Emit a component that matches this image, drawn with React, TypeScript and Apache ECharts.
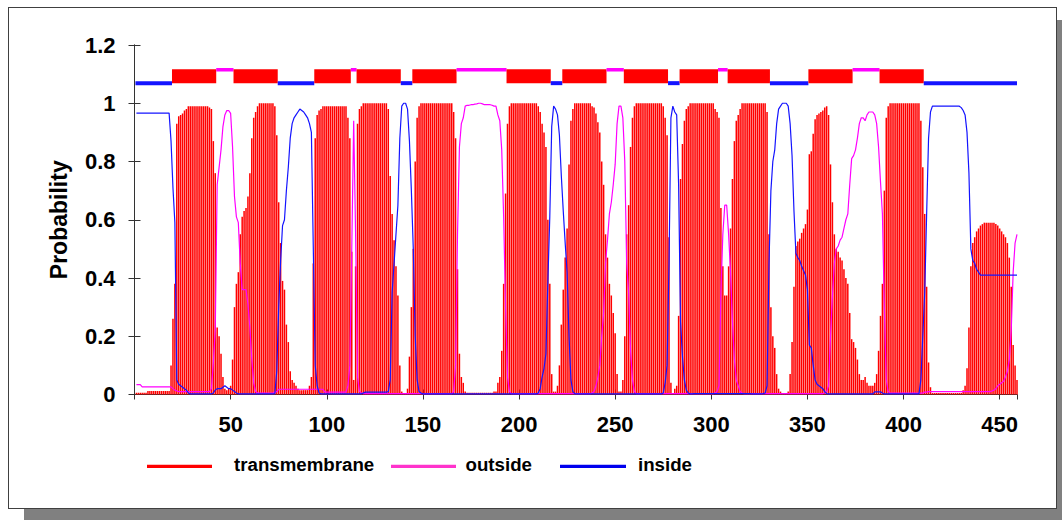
import React, { useEffect, useRef } from "react";
import * as echarts from "echarts";

// Posterior probabilities per residue (residue 1 .. 459)
const tmProb = [
  0.006,0.006,0.006,0.006,0.006,0.006,0.012,0.012,0.012,0.012,
  0.012,0.012,0.012,0.012,0.012,0.012,0.012,0.012,0.1,0.26,
  0.38,0.93,0.955,0.96,0.965,0.975,0.98,0.99,0.99,0.99,
  0.99,0.99,0.99,0.99,0.99,0.99,0.99,0.99,0.985,0.98,
  0.87,0.76,0.23,0.2,0.14,0.06,0.02,0.015,0.02,0.03,
  0.12,0.3,0.38,0.42,0.55,0.61,0.63,0.64,0.68,0.76,
  0.88,0.95,0.97,0.99,1,1,1,1,1,1,
  1,1,0.99,0.89,0.66,0.52,0.39,0.36,0.24,0.18,
  0.08,0.05,0.04,0.03,0.02,0.015,0.015,0.015,0.015,0.015,
  0.03,0.06,0.45,0.88,0.96,0.975,0.98,0.99,0.99,0.99,
  0.99,0.99,0.99,0.99,0.99,0.99,0.99,0.99,0.99,0.99,
  0.95,0.88,0.49,0.05,0.44,0.93,0.98,0.99,1,1,
  1,1,1,1,1,1,1,1,1,1,
  1,0.98,0.75,0.62,0.53,0.44,0.34,0.1,0.01,0.003,
  0.003,0.02,0.13,0.3,0.5,0.8,0.95,0.99,1,1,
  1,1,1,1,1,1,1,1,1,1,
  1,1,1,1,1,0.97,0.88,0.43,0.14,0.06,
  0.04,0.01,0.006,0.006,0.006,0.006,0.006,0.006,0.006,0.006,
  0.006,0.006,0.006,0.006,0.006,0.006,0.01,0.01,0.04,0.06,
  0.15,0.38,0.69,0.93,0.99,1,1,1,1,1,
  1,1,1,1,1,1,1,1,1,0.99,
  0.97,0.93,0.9,0.85,0.6,0.38,0.07,0.01,0.01,0.03,
  0.1,0.24,0.36,0.47,0.57,0.79,0.94,0.98,1,1,
  1,1,1,1,1,1,1,0.99,0.985,0.965,
  0.935,0.9,0.8,0.72,0.55,0.47,0.38,0.34,0.28,0.21,
  0.07,0.01,0.01,0.05,0.2,0.55,0.65,0.85,0.95,0.99,
  1,1,1,1,1,1,1,1,1,1,
  1,1,1,1,0.99,0.95,0.89,0.54,0.04,0.005,
  0.02,0.03,0.27,0.74,0.86,0.94,0.98,0.99,1,1,
  1,1,1,1,1,1,1,1,1,1,
  1,0.98,0.97,0.95,0.64,0.44,0.34,0.34,0.44,0.57,
  0.74,0.87,0.94,0.96,0.98,1,1,1,1,1,
  1,1,1,1,1,1,1,1,0.97,0.55,
  0.3,0.2,0.16,0.07,0.02,0.01,0.003,0.003,0.003,0.01,
  0.07,0.18,0.37,0.51,0.525,0.535,0.555,0.57,0.585,0.635,
  0.825,0.835,0.895,0.945,0.96,0.965,0.97,0.975,0.985,0.99,
  0.96,0.79,0.66,0.55,0.5,0.49,0.47,0.46,0.43,0.4,
  0.38,0.28,0.19,0.18,0.16,0.12,0.07,0.05,0.05,0.06,
  0.04,0.03,0.03,0.03,0.04,0.07,0.15,0.27,0.38,0.7,
  0.95,0.99,1,1,1,1,1,1,1,1,
  1,1,1,1,1,1,1,1,0.94,0.78,
  0.62,0.37,0.11,0.025,0.005,0.005,0.005,0.005,0.005,0.005,
  0.005,0.005,0.005,0.005,0.005,0.005,0.005,0.005,0.005,0.005,
  0.015,0.03,0.09,0.23,0.44,0.52,0.54,0.56,0.57,0.58,
  0.585,0.59,0.59,0.59,0.59,0.59,0.59,0.585,0.58,0.57,
  0.56,0.55,0.54,0.52,0.47,0.37,0.17,0.1,0.05,
];

const outsideProb = [
  0.034,0.034,0.034,0.026,0.026,0.026,0.026,0.026,0.026,0.026,
  0.026,0.026,0.026,0.026,0.026,0.026,0.026,0.026,0.026,0.02,
  0.015,0.012,0.01,0.01,0.01,0.01,0.01,0.01,0.01,0.01,
  0.01,0.01,0.01,0.01,0.01,0.01,0.01,0.01,0.01,0.02,
  0.11,0.22,0.72,0.78,0.84,0.92,0.96,0.975,0.975,0.965,
  0.85,0.68,0.61,0.59,0.45,0.36,0.36,0.36,0.31,0.23,
  0.12,0.04,0.01,0.005,0.005,0.005,0.005,0.005,0.005,0.005,
  0.005,0.005,0.008,0.01,0.018,0.018,0.018,0.018,0.018,0.018,
  0.018,0.018,0.018,0.018,0.018,0.018,0.018,0.018,0.018,0.018,
  0.018,0.018,0.018,0.018,0.018,0.018,0.018,0.018,0.008,0.008,
  0.008,0.008,0.008,0.008,0.008,0.008,0.008,0.008,0.008,0.008,
  0.03,0.1,0.5,0.94,0.55,0.06,0.01,0.005,0.003,0.003,
  0.003,0.003,0.003,0.003,0.003,0.003,0.003,0.003,0.003,0.003,
  0.003,0.003,0.003,0.003,0.003,0.003,0.003,0.003,0.003,0.003,
  0.003,0.003,0.003,0.003,0.003,0.003,0.003,0.003,0.003,0.003,
  0.003,0.003,0.003,0.003,0.003,0.003,0.003,0.003,0.003,0.003,
  0.003,0.003,0.003,0.003,0.003,0.01,0.1,0.55,0.85,0.93,
  0.95,0.99,0.993,0.993,0.995,0.995,0.997,0.998,1,1,
  0.998,0.995,0.995,0.995,0.995,0.993,0.99,0.99,0.96,0.94,
  0.84,0.61,0.3,0.06,0.01,0.003,0.003,0.003,0.003,0.003,
  0.003,0.003,0.003,0.003,0.003,0.003,0.003,0.003,0.003,0.003,
  0.003,0.003,0.003,0.003,0.003,0.003,0.003,0.003,0.003,0.003,
  0.003,0.003,0.003,0.003,0.003,0.003,0.003,0.003,0.003,0.003,
  0.003,0.003,0.003,0.003,0.003,0.003,0.003,0.005,0.01,0.03,
  0.06,0.1,0.2,0.28,0.45,0.53,0.62,0.66,0.72,0.79,
  0.93,0.99,0.99,0.95,0.8,0.45,0.35,0.15,0.05,0.01,
  0.003,0.003,0.003,0.003,0.003,0.003,0.003,0.003,0.003,0.003,
  0.003,0.003,0.003,0.003,0.003,0.003,0.003,0.003,0.003,0.003,
  0.003,0.003,0.003,0.003,0.003,0.003,0.003,0.003,0.003,0.003,
  0.003,0.003,0.003,0.003,0.003,0.003,0.003,0.003,0.003,0.003,
  0.003,0.005,0.01,0.03,0.35,0.55,0.65,0.65,0.55,0.42,
  0.25,0.12,0.05,0.03,0.01,0.005,0.003,0.003,0.003,0.003,
  0.003,0.003,0.003,0.003,0.003,0.003,0.003,0.003,0.003,0.003,
  0.003,0.003,0.003,0.003,0.003,0.003,0.003,0.003,0.003,0.003,
  0.003,0.003,0.003,0.003,0.003,0.003,0.003,0.003,0.003,0.003,
  0.003,0.003,0.003,0.003,0.003,0.003,0.003,0.003,0.005,0.01,
  0.03,0.2,0.34,0.45,0.5,0.51,0.53,0.54,0.57,0.6,
  0.62,0.72,0.81,0.82,0.84,0.88,0.93,0.95,0.95,0.94,
  0.96,0.97,0.97,0.97,0.96,0.93,0.85,0.73,0.62,0.3,
  0.05,0.01,0.005,0.005,0.005,0.005,0.005,0.005,0.005,0.005,
  0.005,0.005,0.005,0.005,0.005,0.005,0.005,0.005,0.005,0.005,
  0.008,0.008,0.01,0.01,0.01,0.01,0.01,0.01,0.01,0.01,
  0.01,0.01,0.01,0.01,0.01,0.01,0.01,0.01,0.01,0.01,
  0.01,0.01,0.01,0.01,0.01,0.01,0.01,0.01,0.01,0.01,
  0.01,0.01,0.01,0.01,0.01,0.012,0.015,0.02,0.03,0.035,
  0.04,0.045,0.06,0.08,0.12,0.22,0.42,0.52,0.55,
];

const insideProb = [
  0.966,0.966,0.966,0.966,0.966,0.966,0.966,0.966,0.966,0.966,
  0.966,0.966,0.966,0.966,0.966,0.966,0.966,0.966,0.87,0.71,
  0.59,0.05,0.035,0.03,0.025,0.02,0.015,0.005,0.002,0.002,
  0.002,0.002,0.002,0.002,0.002,0.002,0.002,0.002,0.002,0.002,
  0.005,0.015,0.02,0.02,0.02,0.025,0.03,0.025,0.02,0.02,
  0.015,0.01,0.005,0.002,0.002,0.002,0.002,0.002,0.002,0.002,
  0.002,0.002,0.002,0.002,0.002,0.002,0.002,0.002,0.002,0.002,
  0.002,0.002,0.003,0.08,0.3,0.46,0.58,0.6,0.7,0.78,
  0.88,0.93,0.95,0.96,0.97,0.98,0.975,0.97,0.96,0.95,
  0.93,0.9,0.5,0.1,0.03,0.005,0.002,0.002,0.002,0.002,
  0.002,0.002,0.002,0.002,0.002,0.002,0.002,0.002,0.002,0.002,
  0.002,0.002,0.002,0.002,0.002,0.002,0.002,0.002,0.005,0.008,
  0.008,0.008,0.008,0.008,0.008,0.008,0.008,0.008,0.008,0.008,
  0.008,0.01,0.05,0.35,0.45,0.55,0.65,0.88,0.99,1,
  1,0.98,0.87,0.7,0.5,0.2,0.05,0.01,0.005,0.002,
  0.002,0.002,0.002,0.002,0.002,0.002,0.002,0.002,0.002,0.002,
  0.002,0.002,0.002,0.002,0.002,0.002,0.002,0.002,0.002,0.002,
  0.002,0.002,0.002,0.002,0.002,0.002,0.002,0.002,0.002,0.002,
  0.002,0.002,0.002,0.002,0.002,0.002,0.002,0.002,0.002,0.002,
  0.002,0.002,0.002,0.002,0.002,0.002,0.002,0.002,0.002,0.002,
  0.002,0.002,0.002,0.002,0.002,0.002,0.002,0.002,0.002,0.005,
  0.02,0.06,0.09,0.14,0.39,0.61,0.92,0.99,0.98,0.96,
  0.89,0.75,0.63,0.52,0.42,0.2,0.05,0.01,0.003,0.002,
  0.002,0.002,0.002,0.002,0.002,0.002,0.002,0.002,0.002,0.002,
  0.002,0.002,0.002,0.002,0.002,0.002,0.002,0.002,0.002,0.002,
  0.002,0.002,0.002,0.002,0.002,0.002,0.002,0.002,0.002,0.002,
  0.002,0.002,0.002,0.002,0.002,0.002,0.002,0.002,0.002,0.002,
  0.002,0.002,0.002,0.002,0.005,0.04,0.1,0.45,0.95,0.99,
  0.97,0.96,0.72,0.25,0.13,0.05,0.015,0.005,0.002,0.002,
  0.003,0.003,0.003,0.003,0.003,0.003,0.003,0.003,0.003,0.003,
  0.003,0.003,0.003,0.003,0.003,0.003,0.003,0.003,0.003,0.003,
  0.003,0.003,0.003,0.003,0.003,0.003,0.003,0.003,0.003,0.003,
  0.002,0.002,0.002,0.002,0.002,0.002,0.003,0.005,0.03,0.45,
  0.7,0.8,0.84,0.93,0.98,0.99,1,1,1,0.99,
  0.93,0.82,0.63,0.485,0.47,0.46,0.44,0.425,0.41,0.36,
  0.17,0.16,0.1,0.05,0.035,0.03,0.025,0.02,0.01,0.003,
  0.002,0.002,0.002,0.002,0.002,0.002,0.002,0.002,0.002,0.002,
  0.002,0.002,0.002,0.002,0.002,0.002,0.002,0.002,0.002,0.002,
  0.002,0.002,0.002,0.002,0.009,0.009,0.009,0.009,0.005,0.002,
  0.002,0.002,0.002,0.002,0.002,0.002,0.002,0.002,0.002,0.002,
  0.002,0.002,0.002,0.002,0.002,0.002,0.002,0.002,0.05,0.2,
  0.35,0.62,0.88,0.97,0.99,0.99,0.99,0.99,0.99,0.99,
  0.99,0.99,0.99,0.99,0.99,0.99,0.99,0.99,0.99,0.985,
  0.975,0.96,0.9,0.76,0.5,0.46,0.45,0.43,0.42,0.41,
  0.41,0.41,0.41,0.41,0.41,0.41,0.41,0.41,0.41,0.41,
  0.41,0.41,0.41,0.41,0.41,0.41,0.41,0.41,0.41,
];

// Predicted topology (segments of residues)
const topoStart = [1, 20, 43, 52, 75, 94, 113, 116, 139, 145, 168, 194, 217, 223, 246, 255, 278, 284, 304, 309, 331, 351, 374, 388, 411];
const topoEnd = [19, 42, 51, 74, 93, 112, 115, 138, 144, 167, 193, 216, 222, 245, 254, 277, 283, 303, 308, 330, 350, 373, 387, 410, 459];
const topoKind = ["inside", "TM", "outside", "TM", "inside", "TM", "outside", "TM", "inside", "TM", "outside", "TM", "inside", "TM", "outside", "TM", "inside", "TM", "outside", "TM", "inside", "TM", "outside", "TM", "inside"];

const xTickLabels = [50, 100, 150, 200, 250, 300, 350, 400, 450];
const seqLength = 459;

const FONT = "'Liberation Sans', Arial, Helvetica, sans-serif";
const RED = "#ff0000";
const MAGENTA = "#ff00ff";
const BLUE = "#1414ff";

export default function App() {
  const ref = useRef<HTMLDivElement>(null);

  useEffect(() => {
    if (!ref.current) return;
    const chart = echarts.init(ref.current, undefined, { renderer: "svg" });

    const topoData = topoStart.map((s, i) => [
      s,
      topoEnd[i],
      topoKind[i] === "TM" ? 0 : topoKind[i] === "inside" ? 1 : 2,
    ]);

    const axisColor = "#333";

    chart.setOption({
      animation: false,
      backgroundColor: "transparent",
      grid: { left: 134.5, right: 45, top: 45, bottom: 125.5, containLabel: false },
      xAxis: [
        {
          type: "value",
          min: 0,
          max: seqLength,
          interval: 50,
          position: "bottom",
          axisLine: { show: true, lineStyle: { color: axisColor, width: 1 } },
          axisTick: { show: true, inside: true, length: 5, lineStyle: { color: axisColor } },
          axisLabel: {
            show: true,
            showMinLabel: false,
            showMaxLabel: false,
            margin: 19,
            color: "#000",
            fontFamily: FONT,
            fontWeight: "bold",
            fontSize: 22,
            formatter: (v: number) => (xTickLabels.indexOf(v) >= 0 ? String(v) : ""),
          },
          splitLine: { show: false },
        },
        {
          type: "value",
          min: 0,
          max: seqLength,
          interval: 50,
          position: "top",
          axisLine: { show: true, lineStyle: { color: axisColor, width: 1 } },
          axisTick: { show: true, inside: true, length: 5, lineStyle: { color: axisColor } },
          axisLabel: { show: false },
          splitLine: { show: false },
        },
      ],
      yAxis: [
        {
          type: "value",
          min: 0,
          max: 1.2,
          interval: 0.2,
          position: "left",
          name: "Probability",
          nameLocation: "middle",
          nameGap: 64,
          nameTextStyle: { fontFamily: FONT, fontWeight: "bold", fontSize: 23, color: "#000" },
          axisLine: { show: true, lineStyle: { color: axisColor, width: 1 } },
          axisTick: { show: true, inside: true, length: 6, lineStyle: { color: axisColor } },
          axisLabel: {
            margin: 19,
            color: "#000",
            fontFamily: FONT,
            fontWeight: "bold",
            fontSize: 22,
          },
          splitLine: { show: false },
        },
        {
          type: "value",
          min: 0,
          max: 1.2,
          interval: 0.2,
          position: "right",
          axisLine: { show: true, lineStyle: { color: axisColor, width: 1 } },
          axisTick: { show: true, inside: true, length: 6, lineStyle: { color: axisColor } },
          axisLabel: { show: false },
          splitLine: { show: false },
        },
      ],
      series: [
        {
          name: "transmembrane",
          type: "bar",
          xAxisIndex: 0,
          yAxisIndex: 0,
          barWidth: 1.5,
          itemStyle: { color: RED },
          data: tmProb.map((v, i) => [i + 1, v]),
          z: 2,
          silent: true,
        },
        {
          name: "outside",
          type: "line",
          xAxisIndex: 0,
          yAxisIndex: 0,
          symbol: "none",
          lineStyle: { color: MAGENTA, width: 1.2 },
          data: outsideProb.map((v, i) => [i + 1, v]),
          z: 3,
          silent: true,
        },
        {
          name: "inside",
          type: "line",
          xAxisIndex: 0,
          yAxisIndex: 0,
          symbol: "none",
          lineStyle: { color: BLUE, width: 1.2 },
          data: insideProb.map((v, i) => [i + 1, v]),
          z: 4,
          silent: true,
        },
        {
          name: "topology",
          type: "custom",
          xAxisIndex: 0,
          yAxisIndex: 0,
          clip: false,
          silent: true,
          z: 5,
          encode: { x: [0, 1] },
          data: topoData,
          renderItem: (params: any, api: any) => {
            const s = api.value(0) as number;
            const e = api.value(1) as number;
            const k = api.value(2) as number;
            const x0 = Math.max(0.5, s - 0.5);
            const x1 = Math.min(seqLength, e + 0.5);
            if (k === 0) {
              const p1 = api.coord([x0, 1.117]);
              const p2 = api.coord([x1, 1.069]);
              return {
                type: "rect",
                shape: { x: p1[0], y: p1[1], width: p2[0] - p1[0], height: p2[1] - p1[1] },
                style: { fill: RED },
              };
            }
            const level = k === 1 ? 1.069 : 1.115;
            const th = k === 1 ? 4 : 3.5;
            const p1 = api.coord([x0, level]);
            const p2 = api.coord([x1, level]);
            return {
              type: "rect",
              shape: { x: p1[0], y: p1[1] - th / 2, width: p2[0] - p1[0], height: th },
              style: { fill: k === 1 ? BLUE : MAGENTA },
            };
          },
        },
      ],
      graphic: [
        { type: "line", shape: { x1: 147, y1: 466.3, x2: 212, y2: 466.3 }, style: { stroke: RED, lineWidth: 3.2 } },
        { type: "text", x: 234, y: 464.5, style: { text: "transmembrane", fill: "#000", font: `bold 18.7px ${FONT}`, verticalAlign: "middle" } },
        { type: "line", shape: { x1: 391, y1: 466.3, x2: 456, y2: 466.3 }, style: { stroke: "#ff33cc", lineWidth: 3.2 } },
        { type: "text", x: 465.5, y: 464.5, style: { text: "outside", fill: "#000", font: `bold 18.7px ${FONT}`, verticalAlign: "middle" } },
        { type: "line", shape: { x1: 560, y1: 466.3, x2: 626, y2: 466.3 }, style: { stroke: "#0000ee", lineWidth: 3.2 } },
        { type: "text", x: 638, y: 464.5, style: { text: "inside", fill: "#000", font: `bold 18.7px ${FONT}`, verticalAlign: "middle" } },
      ],
    });

    return () => {
      chart.dispose();
    };
  }, []);

  return (
    <div style={{ position: "absolute", left: 0, top: 0, width: 1062, height: 520, background: "#fff", overflow: "hidden" }}>
      <div style={{ position: "absolute", left: 24, top: 20, width: 1038, height: 500, background: "#808080" }} />
      <div
        style={{
          position: "absolute",
          left: 8,
          top: 7,
          width: 1049,
          height: 502,
          boxSizing: "border-box",
          border: "1px solid #404040",
          background: "#fff",
        }}
      />
      <div ref={ref} style={{ position: "absolute", left: 0, top: 0, width: 1062, height: 520 }} />
    </div>
  );
}
